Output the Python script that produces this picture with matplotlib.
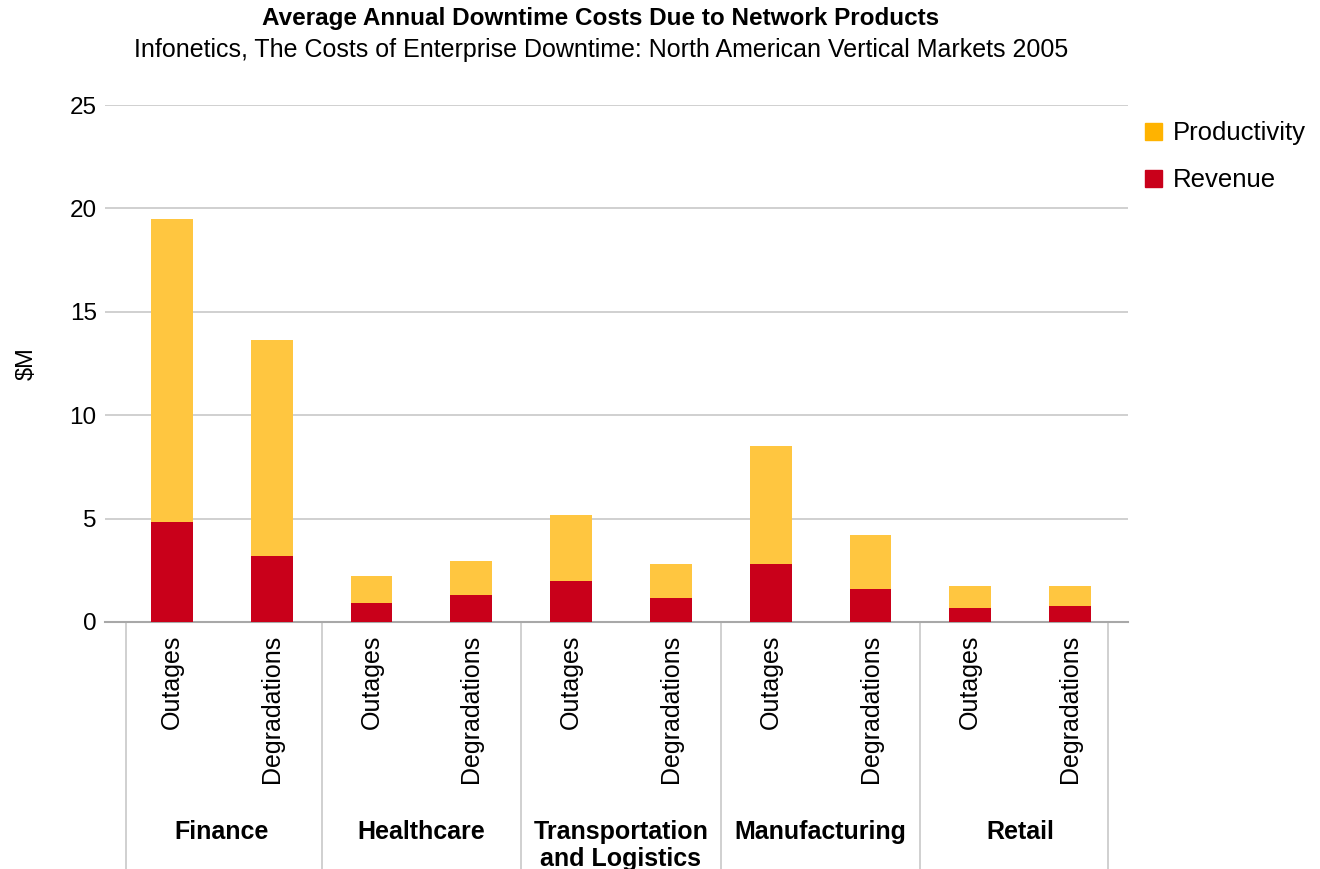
import matplotlib
matplotlib.use("Agg")
import matplotlib.pyplot as plt
from matplotlib.patches import Patch
import numpy as np

plt.rcParams['font.family'] = ['Liberation Sans', 'DejaVu Sans']

# data ($M)
industries = ['Finance', 'Healthcare', 'Transportation\nand Logistics', 'Manufacturing', 'Retail']
kinds = ['Outages', 'Degradations']
revenue = [4.85, 3.2, 0.94, 1.3, 1.97, 1.15, 2.8, 1.6, 0.67, 0.78]
total = [19.5, 13.65, 2.23, 2.95, 5.17, 2.82, 8.53, 4.22, 1.76, 1.73]
productivity = [t - r for t, r in zip(total, revenue)]

bar_yellow = '#FFC640'
bar_red = '#C9001A'
leg_yellow = '#FFB300'
leg_red = '#C9001A'

fig = plt.figure(figsize=(13.2, 8.69), dpi=100)
ax = fig.add_axes([105/1320, 1-622/869, (1128-105)/1320, (622-105)/869])

x = np.arange(len(revenue))
ax.bar(x, revenue, width=0.42, color=bar_red, zorder=3)
ax.bar(x, productivity, width=0.42, bottom=revenue, color=bar_yellow, zorder=3)

ax.set_xlim(-0.67, 9.58)
ax.set_ylim(0, 25)
ax.set_yticks([0, 5, 10, 15, 20, 25])
ax.yaxis.grid(True, color='#c8c8c8', linewidth=1.2, zorder=0)
ax.tick_params(axis='y', length=0, labelsize=17.5, pad=6)
ax.set_xticks([])
for s in ['top', 'right', 'left']:
    ax.spines[s].set_visible(False)
ax.spines['bottom'].set_color('#a8a8a8')
ax.spines['bottom'].set_linewidth(1.5)
ax.set_ylabel('$M', fontsize=17, labelpad=23)

# hierarchical x labels
trans = ax.get_xaxis_transform()
for i in range(len(revenue)):
    ax.text(x[i], -0.025, kinds[i % 2], rotation=90, ha='center', va='top',
            fontsize=18, transform=trans, clip_on=False)
for g, name in enumerate(industries):
    ax.text(2 * g + 0.5, -0.383, name, ha='center', va='top', fontsize=18,
            fontweight='bold', transform=trans, clip_on=False, linespacing=1.14)
for sx in [-0.46, 1.5, 3.5, 5.5, 7.5, 9.38]:
    ax.plot([sx, sx], [0, -0.48], color='#c8c8c8', linewidth=1.2,
            transform=trans, clip_on=False)

fig.text(601/1320, 1-18/869, 'Average Annual Downtime Costs Due to Network Products',
         ha='center', va='center', fontsize=17.5, fontweight='bold')
fig.text(601/1320, 1-50/869,
         'Infonetics, The Costs of Enterprise Downtime: North American Vertical Markets 2005',
         ha='center', va='center', fontsize=18)

handles = [Patch(color=leg_yellow, label='Productivity'), Patch(color=leg_red, label='Revenue')]
fig.legend(handles=handles, loc='upper left', bbox_to_anchor=(1135/1320, 1-111/869),
           frameon=False, fontsize=18.5, handlelength=0.66, handleheight=0.66,
           labelspacing=0.9, handletextpad=0.4, borderaxespad=0)

fig.savefig('out.png', dpi=100)
